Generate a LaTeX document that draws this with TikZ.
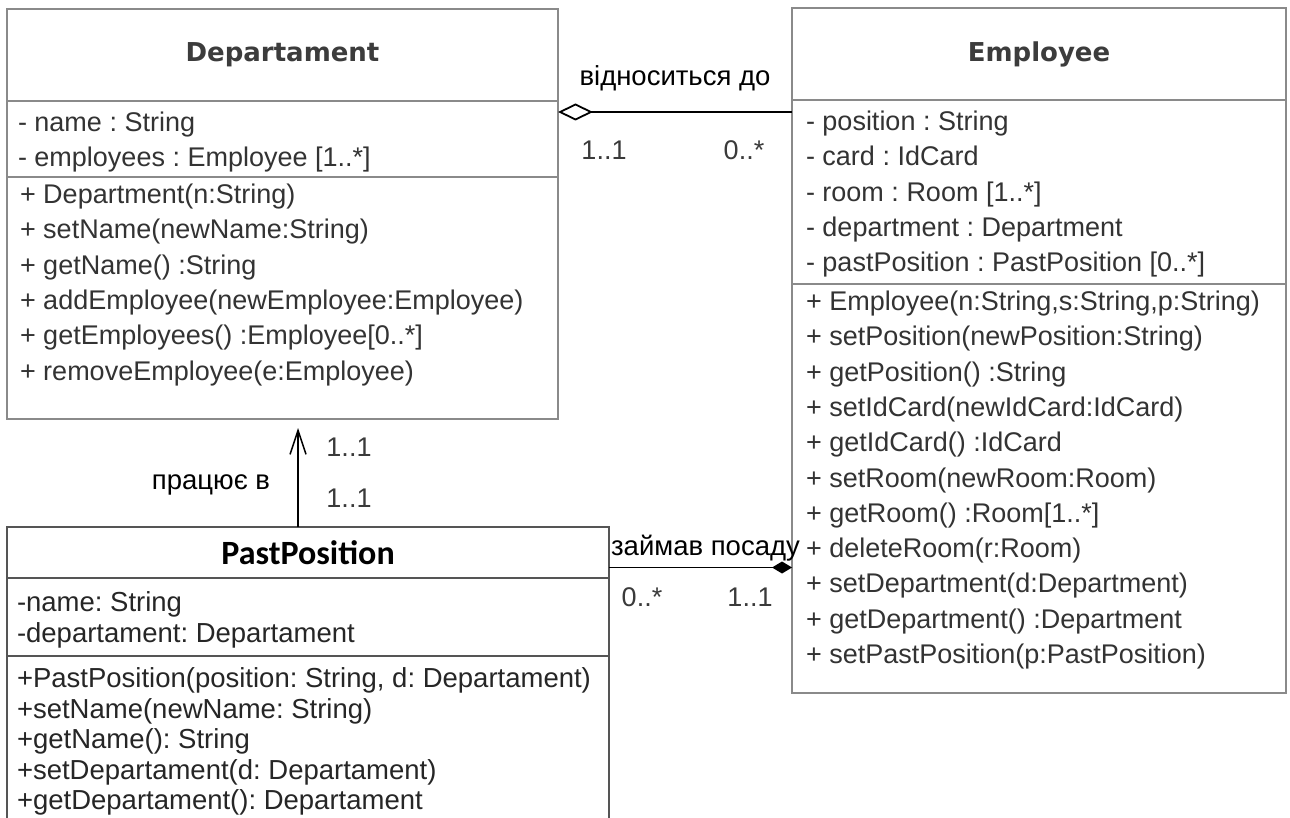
\documentclass[tikz,border=0pt]{standalone}
\usepackage{fontspec}
\setmainfont{Liberation Sans}
\newfontfamily\headfont{DejaVu Sans}
\newfontfamily\calfont{Carlito}
\usetikzlibrary{arrows.meta,positioning}
\frenchspacing
\definecolor{frame}{HTML}{8A8A8A}
\definecolor{ink}{HTML}{333333}
\definecolor{heading}{HTML}{3C3C3C}
\definecolor{ppline}{HTML}{555555}
\definecolor{multi}{HTML}{3A3A3A}

\begin{document}
\begin{tikzpicture}[x=1pt, y=1pt, node distance=0pt, every node/.style={outer sep=0pt},
      clshead/.style={draw=frame, line width=2pt, text=heading, align=center, font=\headfont\bfseries\fontsize{26}{30}\selectfont},
      clspart/.style={draw=frame, line width=2pt},
      members/.style={inner sep=0pt, align=left, text=ink, font=\fontsize{27}{35.3}\selectfont},
      pphead/.style={draw=ppline, line width=2pt, font=\calfont\bfseries\fontsize{34}{40}\selectfont},
      pppart/.style={draw=ppline, line width=2pt},
      ppmembers/.style={inner sep=0pt, align=left, text=black!85, font=\fontsize{27.5}{30.5}\selectfont},
      lbl/.style={inner sep=0pt, font=\fontsize{27.5}{30}\selectfont},
      mult/.style={inner sep=0pt, text=multi, font=\fontsize{27}{30}\selectfont},
      agg/.style={{Diamond[open, length=35pt, width=17pt]}-, line width=1.8pt},
      compo/.style={-{Diamond[length=20pt, width=12pt]}, line width=1.8pt},
      nav/.style={-{Straight Barb[length=24pt, width=16pt]}, line width=1.5pt, shorten >=9pt}]
    \useasboundingbox[fill=white] (0,0) rectangle (1290,-818);
    \clip (0,0) rectangle (1290,-818);
    \node[clshead, minimum width=551pt, minimum height=92pt] (dep) at (282.5,-55) {Departament};
    \node[clspart, minimum width=551pt, minimum height=76pt, below=of dep] (dep-attr) {};
    \node[clspart, minimum width=551pt, minimum height=242pt, below=of dep-attr] (dep-ops) {};
    \node[members, below right=11pt and 11pt of dep-attr.north west] (dep-attr-txt) {- name : String\\- employees : Employee [1..*]};
    \node[members, below right=7pt and 13pt of dep-ops.north west] (dep-ops-txt) {+ Department(n:String)\\+ setName(newName:String)\\+ getName() :String\\+ addEmployee(newEmployee:Employee)\\+ getEmployees() :Employee[0..*]\\+ removeEmployee(e:Employee)};
    \node[clshead, minimum width=494pt, minimum height=92pt] (emp) at (1039,-54) {Employee};
    \node[clspart, minimum width=494pt, minimum height=184pt, below=of emp] (emp-attr) {};
    \node[clspart, minimum width=494pt, minimum height=409pt, below=of emp-attr] (emp-ops) {};
    \node[members, below right=11pt and 14pt of emp-attr.north west] (emp-attr-txt) {- position : String\\- card : IdCard\\- room : Room [1..*]\\- department : Department\\- pastPosition : PastPosition [0..*]};
    \node[members, below right=7pt and 14pt of emp-ops.north west] (emp-ops-txt) {+ Employee(n:String,s:String,p:String)\\+ setPosition(newPosition:String)\\+ getPosition() :String\\+ setIdCard(newIdCard:IdCard)\\+ getIdCard() :IdCard\\+ setRoom(newRoom:Room)\\+ getRoom() :Room[1..*]\\+ deleteRoom(r:Room)\\+ setDepartment(d:Department)\\+ getDepartment() :Department\\+ setPastPosition(p:PastPosition)};
    \node[pphead, minimum width=602pt, minimum height=51pt] (pp) at (308,-552.5) {PastPosition};
    \node[pppart, minimum width=602pt, minimum height=78pt, below=of pp] (pp-attr) {};
    \node[pppart, minimum width=602pt, minimum height=200pt, below=of pp-attr] (pp-ops) {};
    \node[ppmembers, below right=14pt and 10pt of pp-attr.north west] (pp-attr-txt) {-name: String\\-departament: Departament};
    \node[ppmembers, below right=12pt and 10pt of pp-ops.north west] (pp-ops-txt) {+PastPosition(position: String, d: Departament)\\+setName(newName: String)\\+getName(): String\\+setDepartament(d: Departament)\\+getDepartament(): Departament};
    \draw[agg] ([yshift=27pt]dep-attr.east) -- ([yshift=27pt]dep-attr.east -| emp-attr.west)
      node[lbl, midway, yshift=34pt] (agg-name) {відноситься до}
      node[mult, pos=0, xshift=46pt, yshift=-38pt] (agg-m1) {1..1}
      node[mult, pos=1, xshift=-48pt, yshift=-38pt] (agg-m2) {0..*};
    \draw[nav] ([xshift=-10pt]pp.north) -- ([xshift=-10pt]pp.north |- dep-ops.south)
      node[lbl, pos=0, xshift=-87pt, yshift=42pt] (nav-name) {працює в}
      node[mult, pos=0, xshift=51pt, yshift=29pt] (nav-m1) {1..1}
      node[mult, pos=1, xshift=51pt, yshift=-28pt] (nav-m2) {1..1};
    \draw[compo] ([yshift=-15pt]pp.east) -- ([yshift=-15pt]pp.east -| emp-ops.west)
      node[lbl, midway, xshift=5pt, yshift=19pt] (comp-name) {займав посаду}
      node[mult, pos=0, xshift=33pt, yshift=-30pt] (comp-m1) {0..*}
      node[mult, pos=1, xshift=-42pt, yshift=-30pt] (comp-m2) {1..1};
  \end{tikzpicture}
\end{document}
